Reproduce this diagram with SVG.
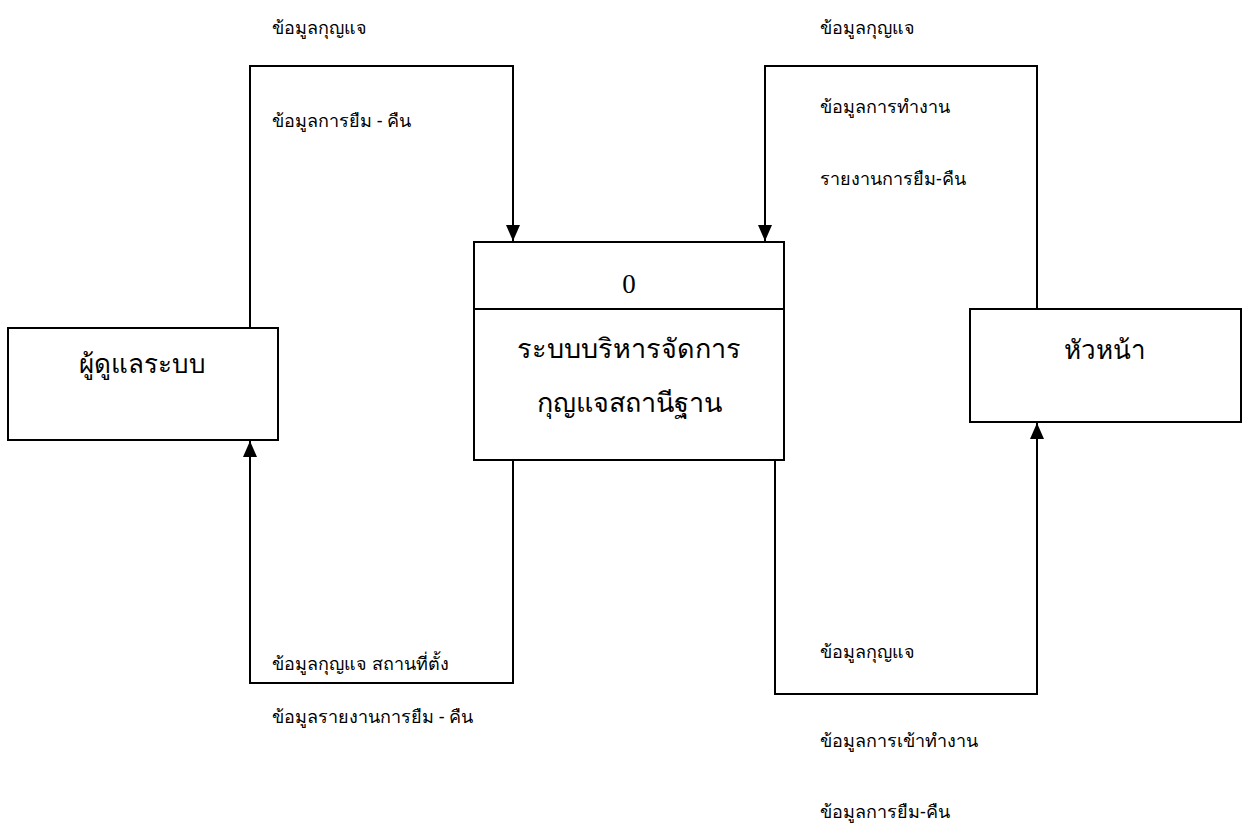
<svg xmlns="http://www.w3.org/2000/svg" width="1248" height="825" viewBox="0 0 1248 825">
<style>
.box{fill:#fff;stroke:#000;stroke-width:2}
.ln{fill:none;stroke:#000;stroke-width:2}
.lbl{font-family:"Noto Sans","Liberation Sans",sans-serif;font-size:18px;fill:#000}
.big{font-family:"Noto Sans","Liberation Serif",serif;font-size:27px;fill:#000;text-anchor:middle}
.side{font-size:26px}
.num{font-family:"Liberation Serif",serif;font-size:27px;fill:#000;text-anchor:middle}
</style>
<defs>
<marker id="ah" viewBox="0 0 16 14" refX="16" refY="7" markerWidth="16" markerHeight="14" markerUnits="userSpaceOnUse" orient="auto">
<path d="M0,0 L16,7 L0,14 Z" fill="#000"/>
</marker>
</defs>
<rect width="1248" height="825" fill="#fff"/>
<g id="connectors">
<path class="ln" d="M250,328 V66 H513 V241" marker-end="url(#ah)"/>
<path class="ln" d="M1037,309 V66 H765 V241" marker-end="url(#ah)"/>
<path class="ln" d="M513,460 V683 H250 V441" marker-end="url(#ah)"/>
<path class="ln" d="M775,460 V694 H1037 V423" marker-end="url(#ah)"/>
</g>
<g id="labels">
<text class="lbl" x="272" y="34">ข้อมูลกุญแจ</text>
<text class="lbl" x="272" y="127">ข้อมูลการยืม - คืน</text>
<text class="lbl" x="820" y="34">ข้อมูลกุญแจ</text>
<text class="lbl" x="820" y="113">ข้อมูลการทำงาน</text>
<text class="lbl" x="820" y="185">รายงานการยืม-คืน</text>
<text class="lbl" x="272" y="670">ข้อมูลกุญแจ สถานที่ตั้ง</text>
<text class="lbl" x="272" y="723">ข้อมูลรายงานการยืม -  คืน</text>
<text class="lbl" x="820" y="658">ข้อมูลกุญแจ</text>
<text class="lbl" x="820" y="747">ข้อมูลการเข้าทำงาน</text>
<text class="lbl" x="820" y="818">ข้อมูลการยืม-คืน</text>
</g>
<g id="admin">
<rect class="box" x="8" y="328" width="270" height="112"/>
<text class="big side" x="142" y="373">ผู้ดูแลระบบ</text>
</g>
<g id="process0">
<rect class="box" x="474" y="242" width="310" height="218"/>
<line class="ln" x1="474" y1="309" x2="784" y2="309"/>
<text class="num" x="629" y="293">0</text>
<text class="big" x="629" y="358">ระบบบริหารจัดการ</text>
<text class="big" x="629" y="412">กุญแจสถานีฐาน</text>
</g>
<g id="head">
<rect class="box" x="970" y="309" width="271" height="113"/>
<text class="big side" x="1105" y="359">หัวหน้า</text>
</g>
</svg>
